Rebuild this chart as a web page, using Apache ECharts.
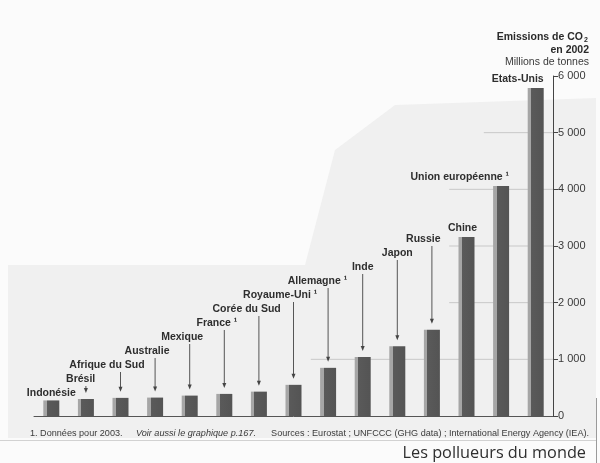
<!DOCTYPE html>
<html>
<head>
<meta charset="utf-8">
<script src="https://cdn.jsdelivr.net/npm/echarts@6/dist/echarts.min.js"></script>
<style>html,body{margin:0;padding:0;background:#fbfbfb;}#c{width:600px;height:463px;}</style>
</head>
<body>
<div id="c"></div>
<script>
// ---- data ----
const countries = ['Indonésie','Brésil','Afrique du Sud','Australie','Mexique','France','Corée du Sud','Royaume-Uni','Allemagne','Inde','Japon','Russie','Chine','Union européenne','Etats-Unis'];
const labels = ['Indonésie','Brésil','Afrique du Sud','Australie','Mexique','France ¹','Corée du Sud','Royaume-Uni ¹','Allemagne ¹','Inde','Japon','Russie','Chine','Union européenne ¹','Etats-Unis'];
const emissions = [275, 300, 320, 325, 360, 390, 430, 550, 850, 1040, 1230, 1520, 3160, 4060, 5790];
const yTicks = [0, 1000, 2000, 3000, 4000, 5000, 6000];
const gridValues = [1000, 2000, 3000, 4000, 5000];
const gridFrom = ['Allemagne', 'Chine', 'Chine', 'Chine', 'Union européenne'];

const LABEL_FONT = 'bold 10.5px "Liberation Sans", Arial, sans-serif';
const SMALL_FONT = '9.1px "Liberation Sans", Arial, sans-serif';
const mctx = document.createElement('canvas').getContext('2d');
mctx.font = LABEL_FONT;

const chart = echarts.init(document.getElementById('c'), null, {renderer: 'canvas'});

function fmt(v) { return v >= 1000 ? String(v).replace(/(\d)(\d{3})$/, '$1 $2') : String(v); }

const option = {
  backgroundColor: '#fbfbfb',
  animation: false,
  grid: {left: 34, right: 47, top: 76, bottom: 47},
  xAxis: {
    type: 'category', data: countries,
    axisLine: {show: true, lineStyle: {color: '#555', width: 1}},
    axisTick: {show: false}, axisLabel: {show: false}, splitLine: {show: false}
  },
  yAxis: {
    type: 'value', position: 'right', min: 0, max: 6000, interval: 1000,
    axisLine: {show: true, lineStyle: {color: '#444', width: 1}},
    axisTick: {show: true, inside: false, length: 5, lineStyle: {color: '#444'}},
    axisLabel: {color: '#3a3a3a', fontSize: 11, fontFamily: '"Liberation Sans", Arial, sans-serif', margin: 5,
      formatter: v => yTicks.indexOf(v) >= 0 ? fmt(v) : ''},
    splitLine: {show: false}
  },
  graphic: [
    {type: 'polygon', z: -10, silent: true,
     shape: {points: [[8,438],[8,265],[305,265],[335,150],[395,105],[596,98],[596,438]]},
     style: {fill: '#f0f0f0'}},
    {type: 'line', z: -5, shape: {x1: 0, y1: 440.5, x2: 596, y2: 440.5}, style: {stroke: '#d2d2d2', lineWidth: 1}},
    {type: 'line', z: -5, shape: {x1: 596.5, y1: 398, x2: 596.5, y2: 463}, style: {stroke: '#9a9a9a', lineWidth: 1}},
    {type: 'text', x: 583, y: 37, style: {text: 'Emissions de CO', font: 'bold 10.5px "Liberation Sans", Arial, sans-serif', fill: '#2a2a2a', textAlign: 'right', textVerticalAlign: 'middle'}},
    {type: 'text', x: 584, y: 40, style: {text: '2', font: 'bold 7px "Liberation Sans", Arial, sans-serif', fill: '#2a2a2a', textAlign: 'left', textVerticalAlign: 'middle'}},
    {type: 'text', x: 589, y: 50, style: {text: 'en 2002', font: 'bold 10.5px "Liberation Sans", Arial, sans-serif', fill: '#2a2a2a', textAlign: 'right', textVerticalAlign: 'middle'}},
    {type: 'text', x: 589, y: 62, style: {text: 'Millions de tonnes', font: '10.5px "Liberation Sans", Arial, sans-serif', fill: '#3a3a3a', textAlign: 'right', textVerticalAlign: 'middle'}},
    {type: 'text', x: 30, y: 433, style: {text: '1. Données pour 2003.', font: SMALL_FONT, fill: '#3a3a3a', textVerticalAlign: 'middle'}},
    {type: 'text', x: 136, y: 433, style: {text: 'Voir aussi le graphique p.167.', font: 'italic ' + SMALL_FONT, fill: '#3a3a3a', textVerticalAlign: 'middle'}},
    {type: 'text', x: 589, y: 433, style: {text: 'Sources : Eurostat ; UNFCCC (GHG data) ; International Energy Agency (IEA).', font: SMALL_FONT, fill: '#3a3a3a', textAlign: 'right', textVerticalAlign: 'middle'}},
    {type: 'text', x: 586, y: 453, style: {text: 'Les pollueurs du monde', font: '16.3px "Open Sans", sans-serif', fill: '#2e2e2e', textAlign: 'right', textVerticalAlign: 'middle'}}
  ],
  series: [
    {
      type: 'custom', name: 'grid', z: 1, silent: true,
      data: gridValues.map((v, k) => [countries.indexOf(gridFrom[k]), v]),
      renderItem: function (params, api) {
        const idx = api.value(0), v = api.value(1);
        const p = api.coord([idx, v]);
        const band = api.size([1, 0])[0];
        const cs = params.coordSys;
        return {type: 'line', shape: {x1: p[0] - band / 2, y1: p[1], x2: cs.x + cs.width, y2: p[1]},
                style: {stroke: '#c8c8c8', lineWidth: 1}};
      }
    },
    {
      type: 'bar', name: 'CO2', z: 2, barWidth: 16,
      data: emissions,
      itemStyle: {color: {type: 'linear', x: 0, y: 0, x2: 1, y2: 0, colorStops: [
        {offset: 0, color: '#a6a6a6'}, {offset: 0.22, color: '#a6a6a6'},
        {offset: 0.22, color: '#5a5a5a'}, {offset: 1, color: '#545454'}]}}
    },
    {
      type: 'custom', name: 'labels', z: 3, silent: true,
      data: emissions.map((v, i) => [i, v]),
      renderItem: function (params, api) {
        const i = api.value(0), v = api.value(1);
        const top = api.coord([i, v]);
        const base = api.coord([i, 0]);
        const cx = top[0];
        const text = labels[i];
        const w = mctx.measureText(text).width;
        const children = [];
        let ly, tx, align = 'center';
        if (i < 12) {
          ly = base[1] - 23 - 14 * i;
          tx = (i >= 1 && i <= 8) ? cx - 0.18 * w : (i === 11 ? cx - 0.25 * w : cx);
        } else {
          ly = top[1] - 9;
          if (i === 12) { tx = cx - 4; }
          else { tx = cx + 8; align = 'right'; }
        }
        children.push({type: 'text', style: {text: text, x: tx, y: ly, font: LABEL_FONT, fill: '#2e2e2e', textAlign: align, textVerticalAlign: 'middle'}});
        if (i >= 1 && i < 12) {
          const y0 = ly + 7, tip = top[1] - 6;
          children.push({type: 'line', shape: {x1: cx, y1: y0, x2: cx, y2: tip - 4}, style: {stroke: '#444', lineWidth: 0.9}});
          children.push({type: 'polygon', shape: {points: [[cx - 2, tip - 5], [cx + 2, tip - 5], [cx, tip]]}, style: {fill: '#444'}});
        }
        return {type: 'group', children: children};
      }
    }
  ]
};
chart.setOption(option);
</script>
</body>
</html>
